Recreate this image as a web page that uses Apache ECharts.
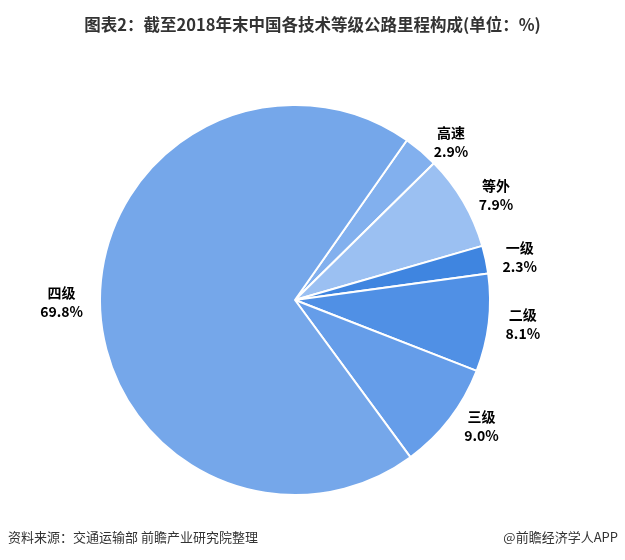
<!DOCTYPE html>
<html>
<head>
<meta charset="utf-8">
<script src="https://cdn.jsdelivr.net/npm/echarts@6/dist/echarts.min.js"></script>
<style>
html,body{margin:0;padding:0;background:#fff;}
#main{width:625px;height:560px;}
</style>
</head>
<body>
<div id="main"></div>
<script>
var titleText = '图表2：截至2018年末中国各技术等级公路里程构成(单位：%)';
var sourceText = '资料来源：交通运输部 前瞻产业研究院整理';
var brandText = '@前瞻经济学人APP';
var categories = ['高速', '等外', '一级', '二级', '三级', '四级'];
var values = [2.9, 7.9, 2.3, 8.1, 9.0, 69.8];
var colors = ['#82b0ee', '#9bc0f2', '#3f85e0', '#5090e5', '#659de9', '#75a7ea'];

var chart = echarts.init(document.getElementById('main'), null, {renderer: 'canvas'});
var font = '"Microsoft YaHei","Noto Sans CJK SC",sans-serif';
var data = categories.map(function (c, i) {
  return {name: c, value: values[i], itemStyle: {color: colors[i]}};
});
chart.setOption({
  backgroundColor: '#fff',
  animation: false,
  title: {
    text: titleText,
    left: 'center',
    top: 11,
    textStyle: {fontFamily: font, fontSize: 16.5, fontWeight: 'bold', color: '#333'}
  },
  graphic: [
    {type: 'text', left: 8, top: 531, style: {text: sourceText, font: '13px ' + font, fill: '#333'}},
    {type: 'text', right: 7, top: 531, style: {text: brandText, font: '13px ' + font, fill: '#333'}}
  ],
  series: [{
    type: 'pie',
    center: [295, 300],
    radius: 195,
    startAngle: 55,
    clockwise: true,
    avoidLabelOverlap: false,
    itemStyle: {borderColor: '#fff', borderWidth: 2},
    label: {
      show: true,
      position: 'outside',
      formatter: function (p) { return p.name + '\n' + p.value.toFixed(1) + '%'; },
      fontFamily: font,
      fontSize: 14,
      fontWeight: 'bold',
      color: '#000',
      lineHeight: 19
    },
    labelLine: {show: false, length: 12, length2: 0},
    labelLayout: function (p) {
      var r = p.labelRect;
      return {x: r.x + r.width / 2, y: r.y + r.height / 2, align: 'center', verticalAlign: 'middle'};
    },
    emphasis: {disabled: true},
    data: data
  }]
});
</script>
</body>
</html>
